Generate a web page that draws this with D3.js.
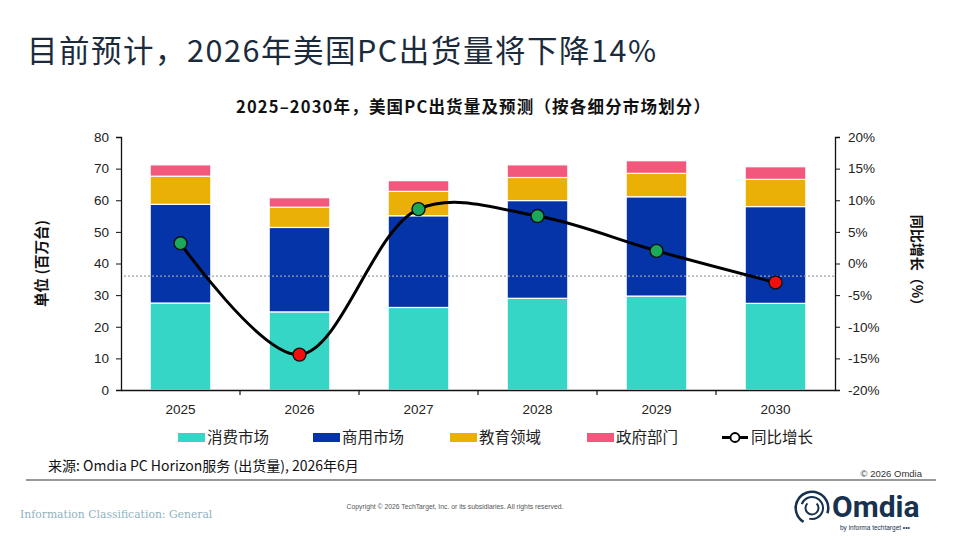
<!DOCTYPE html>
<html>
<head>
<meta charset="utf-8">
<script src="https://cdn.jsdelivr.net/npm/d3@7"></script>
<style>
  body { margin: 0; background: #fff; }
  svg { display: block; font-family: "Liberation Sans", Arial, sans-serif; }
  .cjk { font-family: "Noto Sans CJK SC", "Liberation Sans", sans-serif; }
</style>
</head>
<body>
<div id="chart"></div>
<script>
// data (millions of units / percent)
const years = ['2025', '2026', '2027', '2028', '2029', '2030'];
const consumer = [27.5, 24.7, 26.1, 29.0, 29.7, 27.4];
const commercial = [31.2, 26.7, 29.0, 30.9, 31.4, 30.6];
const education = [8.9, 6.4, 7.7, 7.3, 7.4, 8.6];
const government = [3.6, 3.0, 3.4, 4.0, 4.0, 4.0];
const growth = [3.2, -14.4, 8.6, 7.5, 2.0, -3.0];
const refLine = -2;   // dotted guide on the % axis

const leftTicks = [0, 10, 20, 30, 40, 50, 60, 70, 80];
const rightTicks = [-20, -15, -10, -5, 0, 5, 10, 15, 20];

const seriesNames = ['消费市场', '商用市场', '教育领域', '政府部门'];
const seriesColors = ['#35d6c6', '#0434a8', '#ebb005', '#f2587b'];

const W = 960, H = 540;
const svg = d3.select('#chart').append('svg')
    .attr('width', W).attr('height', H);

// headline
svg.append('text')
    .attr('class', 'cjk')
    .attr('x', 27).attr('y', 62)
    .attr('font-size', 30.5)
    .attr('textLength', 629)
    .attr('lengthAdjust', 'spacing')
    .attr('fill', '#1b2b3c')
    .text('目前预计，2026年美国PC出货量将下降14%');

svg.append('text')
    .attr('class', 'cjk')
    .attr('x', 236).attr('y', 113)
    .attr('font-size', 16.5)
    .attr('textLength', 474)
    .attr('lengthAdjust', 'spacing')
    .attr('font-weight', 'bold')
    .attr('fill', '#111')
    .text('2025–2030年，美国PC出货量及预测（按各细分市场划分）');

// scales
const plot = { left: 121, right: 835, top: 137, bottom: 390 };

const x = d3.scaleBand()
    .domain(years)
    .range([plot.left, plot.right])
    .paddingInner(0.49)
    .paddingOuter(0.245);

const y = d3.scaleLinear().domain([0, 80]).range([plot.bottom, plot.top]);
const y2 = d3.scaleLinear().domain([-20, 20]).range([plot.bottom, plot.top]);

// stacked bars
const table = years.map((yr, i) => ({
    year: yr, s0: consumer[i], s1: commercial[i], s2: education[i], s3: government[i]
}));
const stack = d3.stack().keys(['s0', 's1', 's2', 's3'])(table);

svg.append('g')
    .selectAll('g')
    .data(stack)
    .enter().append('g')
    .attr('fill', (d, i) => seriesColors[i])
    .selectAll('rect')
    .data(d => d)
    .enter().append('rect')
    .attr('x', d => x(d.data.year))
    .attr('width', x.bandwidth())
    .attr('y', d => y(d[1]))
    .attr('height', d => y(d[0]) - y(d[1]))
    .attr('stroke', '#fff')
    .attr('stroke-width', 1.2);

// dotted reference
svg.append('line')
    .attr('x1', plot.left + 3).attr('x2', plot.right)
    .attr('y1', y2(refLine)).attr('y2', y2(refLine))
    .attr('stroke', '#9a9ea6')
    .attr('stroke-width', 1.3)
    .attr('stroke-dasharray', '2,2');

// axes
const axisFont = g => g.selectAll('text')
    .attr('font-size', 13.5)
    .attr('fill', '#222')
    .attr('font-family', '"Liberation Sans", Arial, sans-serif');

svg.append('g')
    .attr('transform', `translate(${plot.left},0)`)
    .call(d3.axisLeft(y).tickValues(leftTicks).tickSize(5).tickPadding(7))
    .call(g => g.select('.domain').attr('stroke', '#111').attr('stroke-width', 1.3))
    .call(g => g.selectAll('line').attr('stroke', '#111'))
    .call(axisFont);

svg.append('g')
    .attr('transform', `translate(${plot.right},0)`)
    .call(d3.axisRight(y2).tickValues(rightTicks).tickSize(5).tickPadding(8)
        .tickFormat(d => d + '%'))
    .call(g => g.select('.domain').attr('stroke', '#111').attr('stroke-width', 1.3))
    .call(g => g.selectAll('line').attr('stroke', '#111'))
    .call(axisFont);

svg.append('g')
    .attr('transform', `translate(0,${plot.bottom})`)
    .call(d3.axisBottom(x).tickSize(0).tickPadding(14))
    .call(g => g.select('.domain').attr('stroke', '#111').attr('stroke-width', 1.5))
    .call(axisFont);

// tick marks between categories
svg.append('g')
    .selectAll('line')
    .data(d3.range(1, years.length))
    .enter().append('line')
    .attr('x1', i => x.range()[0] + i * x.step())
    .attr('x2', i => x.range()[0] + i * x.step())
    .attr('y1', plot.bottom).attr('y2', plot.bottom + 5)
    .attr('stroke', '#111').attr('stroke-width', 1.2);

// axis titles
svg.append('text')
    .attr('class', 'cjk')
    .attr('transform', `translate(47,${(plot.top + plot.bottom) / 2}) rotate(-90)`)
    .attr('text-anchor', 'middle')
    .attr('font-size', 14.5)
    .attr('font-weight', 'bold')
    .attr('fill', '#111')
    .text('单位 (百万台)');

svg.append('text')
    .attr('class', 'cjk')
    .attr('transform', `translate(912,${(plot.top + plot.bottom) / 2}) rotate(90)`)
    .attr('text-anchor', 'middle')
    .attr('font-size', 14)
    .attr('font-weight', 'bold')
    .attr('fill', '#111')
    .text('同比增长（%）');

// growth line
const cx = d => x(d) + x.bandwidth() / 2;
const pts = years.map((yr, i) => [cx(yr), y2(growth[i])]);

svg.append('path')
    .datum(pts)
    .attr('fill', 'none')
    .attr('stroke', '#000')
    .attr('stroke-width', 3)
    .attr('d', d3.line().curve(d3.curveCatmullRom.alpha(0.5)));

svg.append('g')
    .selectAll('circle')
    .data(pts)
    .enter().append('circle')
    .attr('cx', d => d[0])
    .attr('cy', d => d[1])
    .attr('r', 6.5)
    .attr('fill', (d, i) => growth[i] >= 0 ? '#1aa95b' : '#f40d0d')
    .attr('stroke', '#111')
    .attr('stroke-width', 1.4);

// legend
const legendX = [178, 313, 450, 587];
const legend = svg.append('g').attr('class', 'cjk');
seriesNames.forEach((name, i) => {
    legend.append('rect')
        .attr('x', legendX[i]).attr('y', 433)
        .attr('width', 27).attr('height', 9)
        .attr('fill', seriesColors[i]);
    legend.append('text')
        .attr('x', legendX[i] + 29).attr('y', 443)
        .attr('font-size', 15.5)
        .attr('fill', '#222')
        .text(name);
});
legend.append('line')
    .attr('x1', 722).attr('x2', 748).attr('y1', 437.5).attr('y2', 437.5)
    .attr('stroke', '#000').attr('stroke-width', 3);
legend.append('circle')
    .attr('cx', 735).attr('cy', 437.5).attr('r', 4.5)
    .attr('fill', '#fff').attr('stroke', '#000').attr('stroke-width', 1.8);
legend.append('text')
    .attr('x', 751).attr('y', 443)
    .attr('font-size', 15.5)
    .attr('fill', '#222')
    .text('同比增长');

// source + footer
svg.append('text')
    .attr('class', 'cjk')
    .attr('x', 48).attr('y', 471)
    .attr('font-size', 14)
    .attr('fill', '#111')
    .text('来源: Omdia PC Horizon服务 (出货量), 2026年6月');

svg.append('text')
    .attr('x', 922).attr('y', 477)
    .attr('text-anchor', 'end')
    .attr('font-size', 9.5)
    .attr('fill', '#333')
    .text('© 2026 Omdia');

svg.append('line')
    .attr('x1', 26).attr('x2', 936).attr('y1', 480).attr('y2', 480)
    .attr('stroke', '#333').attr('stroke-width', 1);

svg.append('text')
    .attr('x', 20).attr('y', 518)
    .attr('font-family', '"DejaVu Serif", "Liberation Serif", serif')
    .attr('font-size', 10.8)
    .attr('fill', '#8fb3c0')
    .text('Information Classification: General');

svg.append('text')
    .attr('x', 455).attr('y', 509)
    .attr('text-anchor', 'middle')
    .attr('font-size', 6.8)
    .attr('fill', '#555')
    .text('Copyright © 2026 TechTarget, Inc. or its subsidiaries. All rights reserved.');

// Omdia logo
const logo = svg.append('g').attr('transform', 'translate(812,508)');
const arc = d3.arc();
[[15, 17.5, -2.6, 1.9], [10, 12, -1.2, 3.4], [5.5, 7.5, 0.8, 5.5]].forEach(a => {
    logo.append('path')
        .attr('d', arc({ innerRadius: a[0], outerRadius: a[1], startAngle: a[2], endAngle: a[3] }))
        .attr('fill', '#17324f');
});
d3.range(7).forEach(k => {
    const ang = -2.4 + k * 0.3;
    logo.append('circle')
        .attr('cx', Math.sin(ang) * 16.5)
        .attr('cy', -Math.cos(ang) * 16.5)
        .attr('r', 1.1)
        .attr('fill', '#17324f');
});
svg.append('text')
    .attr('x', 832).attr('y', 517)
    .attr('font-family', 'Roboto, "Liberation Sans", sans-serif')
    .attr('font-weight', 'bold')
    .attr('font-size', 30)
    .attr('fill', '#17324f')
    .text('Omdia');
svg.append('text')
    .attr('x', 840).attr('y', 530)
    .attr('font-size', 6.5)
    .attr('fill', '#17324f')
    .text('by informa techtarget •••');
</script>
</body>
</html>
